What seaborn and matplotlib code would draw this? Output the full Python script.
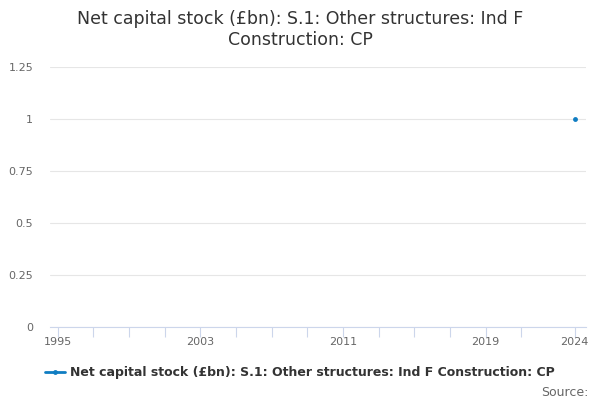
import numpy as np
import pandas as pd
import seaborn as sns
import matplotlib.pyplot as plt
from matplotlib.lines import Line2D

years = list(range(1995, 2025))
values = [np.nan] * 29 + [1.0]
series_name = "Net capital stock (£bn): S.1: Other structures: Ind F Construction: CP"
title = "Net capital stock (£bn): S.1: Other structures: Ind F\nConstruction: CP"
tick_years = list(range(1995, 2022, 2)) + [2024]
label_years = [1995, 2003, 2011, 2019, 2024]
y_ticks = [0, 0.25, 0.5, 0.75, 1, 1.25]
y_labels = ["0", "0.25", "0.5", "0.75", "1", "1.25"]

df = pd.DataFrame({"year": years, "value": values})

sns.set_style("white")
plt.rcParams["font.family"] = ["DejaVu Sans"]

fig = plt.figure(figsize=(6, 4), dpi=100)
ax = fig.add_axes([0.083, 0.1825, 0.894, 0.65])

sns.lineplot(data=df, x="year", y="value", ax=ax, color="#0f7dc2",
             marker="o", markersize=3.5, markeredgewidth=0, linewidth=2,
             label=series_name, legend=False)

ax.set_xlim(1994.55, 2024.65)
ax.set_ylim(0, 1.25)
ax.set_yticks(y_ticks)
ax.set_yticklabels(y_labels)
ax.set_xticks(tick_years)
ax.set_xticklabels([str(y) if y in label_years else "" for y in tick_years])
ax.grid(axis="y", color="#e6e6e6", linewidth=0.8)
ax.grid(axis="x", visible=False)
for s in ["top", "right", "left"]:
    ax.spines[s].set_visible(False)
ax.spines["bottom"].set_color("#ccd6eb")
ax.tick_params(axis="x", bottom=True, direction="out", colors="#ccd6eb", length=7,
               width=0.8, labelcolor="#666666", labelsize=8, pad=0.5)
ax.tick_params(axis="y", left=False, length=0, labelcolor="#666666", labelsize=8, pad=12)
ax.set_xlabel("")
ax.set_ylabel("")

fig.suptitle(title, fontsize=12.5, color="#333333", y=0.975)

h = Line2D([0], [0], color="#0f7dc2", linewidth=2, marker="o", markersize=3.5,
           markeredgewidth=0)
fig.legend([h], [series_name], loc="center", bbox_to_anchor=(0.5, 0.068),
           frameon=False, prop={"weight": "bold", "size": 9}, labelcolor="#333333",
           handlelength=1.6, handletextpad=0.4)
fig.text(0.98, 0.02, "Source:", ha="right", va="center", fontsize=9, color="#666666")

fig.savefig("out.png", dpi=100)
